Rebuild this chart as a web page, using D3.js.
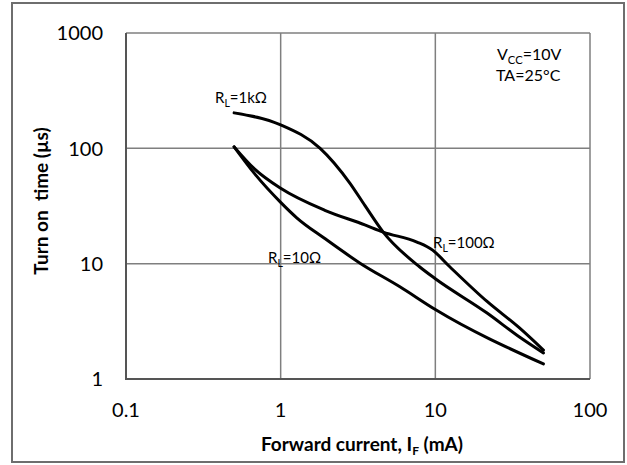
<!DOCTYPE html>
<html>
<head>
<meta charset="utf-8">
<script src="https://cdn.jsdelivr.net/npm/d3@7"></script>
<style>
  body { margin: 0; background: #fff; }
  text { font-family: Lato, "Open Sans", sans-serif; fill: #000; }
</style>
</head>
<body>
<svg id="chart" width="627" height="465"></svg>
<script>
// tick values
const xTicks = [0.1, 1, 10, 100];
const yTicks = [1, 10, 100, 1000];

// forward current (mA) vs turn on time (us)
const rl1kI = [0.5, 1, 1.8, 2.8, 3.5, 4.6, 7.9, 10, 21.6, 35, 50];
const rl1kT = [203, 160, 100, 50, 32, 18.8, 9.4, 7.4, 3.73, 2.31, 1.68];

const rl100I = [0.5, 0.68, 1, 1.93, 3.5, 4.6, 7.6, 9.6, 12.4, 21.6, 35, 50];
const rl100T = [103, 66, 45, 29, 21.7, 18.8, 15.4, 13.1, 9.4, 4.7, 2.77, 1.78];

const rl10I = [0.5, 0.68, 1, 1.27, 1.93, 3.26, 5.9, 10, 50];
const rl10T = [103, 60, 34, 25, 16.5, 10.1, 6.3, 4.0, 1.35];

const series = [
    {name: "1k", I: rl1kI, T: rl1kT},
    {name: "100", I: rl100I, T: rl100T},
    {name: "10", I: rl10I, T: rl10T}
];

const svg = d3.select('#chart');

// outer frame
svg.append('rect')
    .attr('x', 12).attr('y', 3)
    .attr('width', 612).attr('height', 459)
    .attr('fill', 'none')
    .attr('stroke', '#6e6e6e')
    .attr('stroke-width', 2);

const x = d3.scaleLog().domain([0.1, 100]).range([126, 590]);
const y = d3.scaleLog().domain([1, 1000]).range([379, 33]);

// grid
svg.append('g').selectAll('line')
    .data(xTicks)
    .join('line')
    .attr('x1', d => x(d)).attr('x2', d => x(d))
    .attr('y1', y(1)).attr('y2', y(1000))
    .attr('stroke', '#7f7f7f')
    .attr('stroke-width', 1.5);

svg.append('g').selectAll('line')
    .data(yTicks)
    .join('line')
    .attr('x1', x(0.1)).attr('x2', x(100))
    .attr('y1', d => y(d)).attr('y2', d => y(d))
    .attr('stroke', '#7f7f7f')
    .attr('stroke-width', 1.5);

// axis lines (left / bottom)
svg.append('line')
    .attr('x1', x(0.1)).attr('x2', x(0.1))
    .attr('y1', y(1) + 1).attr('y2', y(1000))
    .attr('stroke', '#555').attr('stroke-width', 2);
svg.append('line')
    .attr('x1', x(0.1)).attr('x2', x(100))
    .attr('y1', y(1)).attr('y2', y(1))
    .attr('stroke', '#555').attr('stroke-width', 2);

// tick labels
svg.append('g').selectAll('text')
    .data(yTicks)
    .join('text')
    .attr('x', 103)
    .attr('y', d => y(d))
    .attr('dy', '0.36em')
    .attr('text-anchor', 'end')
    .style('font-size', '20px')
    .text(d => d);

svg.append('g').selectAll('text')
    .data(xTicks)
    .join('text')
    .attr('x', d => x(d))
    .attr('y', 417)
    .attr('text-anchor', 'middle')
    .style('font-size', '20px')
    .text(d => d);

// axis titles
const xt = svg.append('text')
    .attr('x', 362).attr('y', 451)
    .attr('text-anchor', 'middle')
    .style('font-size', '19px')
    .style('font-weight', 'bold');
xt.append('tspan').text('Forward current, I');
xt.append('tspan').attr('dy', 4).style('font-size', '12px').text('F');
xt.append('tspan').attr('dy', -4).text(' (mA)');

svg.append('text')
    .attr('transform', 'translate(48,201) rotate(-90)')
    .attr('text-anchor', 'middle')
    .attr('xml:space', 'preserve')
    .style('white-space', 'pre')
    .style('font-size', '19px')
    .style('font-weight', 'bold')
    .text('Turn on  time (µs)');

// curves
const line = d3.line()
    .x(d => x(d[0]))
    .y(d => y(d[1]))
    .curve(d3.curveMonotoneX);

svg.append('g').selectAll('path')
    .data(series)
    .join('path')
    .attr('d', s => line(s.I.map((v, i) => [v, s.T[i]])))
    .attr('fill', 'none')
    .attr('stroke', '#000')
    .attr('stroke-width', 3)
    .attr('stroke-linecap', 'round');

// labels with subscripts
function label(px, py, main, sub, rest, size) {
    const t = svg.append('text')
        .attr('x', px).attr('y', py)
        .style('font-size', size + 'px');
    t.append('tspan').text(main);
    t.append('tspan').attr('dy', 4).style('font-size', (size * 0.7) + 'px').text(sub);
    t.append('tspan').attr('dy', -4).text(rest);
}

label(215, 103, 'R', 'L', '=1kΩ', 15);
label(268, 263, 'R', 'L', '=10Ω', 15);
label(433, 248, 'R', 'L', '=100Ω', 15);
label(497, 60, 'V', 'CC', '=10V', 16);

svg.append('text')
    .attr('x', 496).attr('y', 81)
    .style('font-size', '16px')
    .text('TA=25°C');
</script>
</body>
</html>
